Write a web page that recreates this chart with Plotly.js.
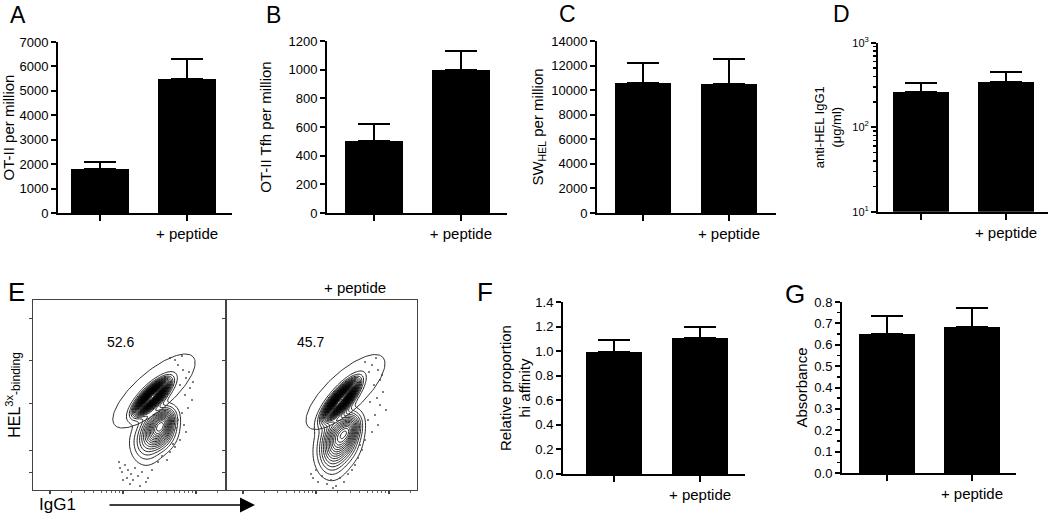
<!DOCTYPE html>
<html><head><meta charset="utf-8">
<script src="https://cdn.plot.ly/plotly-3.0.1.min.js"></script>
<style>html,body{margin:0;padding:0;background:#fff}#chart{width:1050px;height:516px}</style>
</head><body><div id="chart"></div>
<script>
// ---------------- data ----------------
const groups = ['', '+ peptide'];
const otiiMean = [1800, 5500];
const otiiSem = [300, 800];
const tfhMean = [500, 1000];
const tfhSem = [120, 130];
const swhelMean = [10600, 10500];
const swhelSem = [1600, 2000];
const igg1Mean = [260, 345];
const igg1Sem = [70, 105];
const hiAffMean = [0.99, 1.11];
const hiAffSem = [0.10, 0.09];
const absMean = [0.65, 0.685];
const absSem = [0.085, 0.085];
const gatePct = ['52.6', '45.7'];

// flow cytometry populations (estimated), units = box pixels
const ctrlPopX = [119, 125, 132, 112];
const ctrlPopY = [93, 60, 70, 45];
const ctrlPopSMaj = [12, 11, 8, 12];
const ctrlPopSMin = [4.5, 9, 6, 9];
const ctrlPopAng = [45, 75, 60, 95];
const ctrlPopW = [1.0, 0.32, 0.15, 0.08];

const pepPopX = [115, 114, 124, 104];
const pepPopY = [90, 52, 62, 32];
const pepPopSMaj = [13, 14, 9, 13];
const pepPopSMin = [4.5, 10, 6, 9];
const pepPopAng = [50, 80, 65, 95];
const pepPopW = [1.0, 0.32, 0.15, 0.08];

const gateCx = [121, 119.5];
const gateCy = [99, 98];
const gateA = [52, 51];
const gateB = [19, 19];
const gateAng = [41, 43];

const ctrlDotX = [145,150,153,147,157,152,159,155,149,145,151,143,153,147,142,137,92,95,98,102,89,94,100,105,109,97,107,115,119,125,129,87,142,137,149,156,160,140,134,90,86,113];
const ctrlDotY = [125,120,112,105,102,95,90,82,77,70,65,62,58,50,43,38,25,20,16,22,18,12,10,14,18,6,4,12,20,28,34,22,130,132,134,118,108,46,30,10,28,8];
const pepDotX = [139,146,152,143,154,148,157,151,144,154,160,149,142,152,146,139,136,132,129,126,87,92,96,101,105,110,114,118,90,122,156,150,134,85,107];
const pepDotY = [128,125,120,118,110,105,98,92,88,85,80,75,70,65,58,50,40,32,25,20,12,8,14,6,10,4,12,8,20,16,115,132,45,16,2];

// ---------------- helpers ----------------
const W = 1050, H = 516;
const dX = (a, b) => [a / W, b / W];
const dY = (top, bottom) => [1 - bottom / H, 1 - top / H];
const FONT = 'Liberation Sans, Arial, Helvetica, sans-serif';

function popDensity(px, py, smaj, smin, ang, w, x, y) {
  let s = 0;
  for (let i = 0; i < px.length; i++) {
    const t = ang[i] * Math.PI / 180;
    const ddx = x - px[i], ddy = y - py[i];
    const u = ddx * Math.cos(t) + ddy * Math.sin(t);
    const v = -ddx * Math.sin(t) + ddy * Math.cos(t);
    s += w[i] * Math.exp(-0.5 * (u * u / (smaj[i] * smaj[i]) + v * v / (smin[i] * smin[i])));
  }
  return s;
}
function grid(xmax, ymax, step, px, py, smaj, smin, ang, w) {
  const gx = [], gy = [], z = [];
  for (let x = 0; x <= xmax; x += step) gx.push(x);
  for (let y = 0; y <= ymax; y += step) gy.push(y);
  for (const y of gy) z.push(gx.map(x => popDensity(px, py, smaj, smin, ang, w, x, y)));
  return {gx, gy, z};
}
function ellipse(i) {
  const xs = [], ys = [], t = gateAng[i] * Math.PI / 180;
  for (let k = 0; k <= 120; k++) {
    const p = 2 * Math.PI * k / 120;
    const u = gateA[i] * Math.cos(p), v = gateB[i] * Math.sin(p);
    xs.push(gateCx[i] + u * Math.cos(t) - v * Math.sin(t));
    ys.push(gateCy[i] + u * Math.sin(t) + v * Math.cos(t));
  }
  return {xs, ys};
}

// ---------------- bar panels ----------------
const barPanels = [
  {n: '', mean: otiiMean, sem: otiiSem, xd: [58, 232], yd: [42, 213], xr: [-0.483, 1.517], yr: [0, 7000], dtick: 1000, fmt: 'd', title: 'OT-II per million', tsize: 15, standoff: 4},
  {n: '2', mean: tfhMean, sem: tfhSem, xd: [327, 507], yd: [41, 213], xr: [-0.54, 1.53], yr: [0, 1200], dtick: 200, fmt: 'd', title: 'OT-II Tfh per million', tsize: 15, standoff: 13},
  {n: '3', mean: swhelMean, sem: swhelSem, xd: [597, 776], yd: [41, 213], xr: [-0.535, 1.547], yr: [0, 14000], dtick: 2000, fmt: 'd', title: 'SW<sub>HEL</sub> per million', tsize: 15, standoff: 4},
  {n: '4', mean: igg1Mean, sem: igg1Sem, xd: [878, 1048], yd: [42.7, 211.7], xr: [-0.506, 1.494], yr: [1, 3], log: true, title: 'anti-HEL IgG1<br>(μg/ml)', tsize: 13, standoff: 8},
  {n: '5', mean: hiAffMean, sem: hiAffSem, xd: [563, 745], yd: [302, 474], xr: [-0.593, 1.523], yr: [0, 1.4], dtick: 0.2, fmt: '.1f', title: 'Relative proportion<br>hi affinity', tsize: 15, standoff: 1},
  {n: '6', mean: absMean, sem: absSem, xd: [842, 1016], yd: [302, 473], xr: [-0.529, 1.518], yr: [0, 0.8], dtick: 0.1, fmt: '.1f', title: 'Absorbance', tsize: 15, standoff: 3, minor: true}
];

const traces = [];
const layout = {
  width: W, height: H, margin: {l: 0, r: 0, t: 0, b: 0},
  paper_bgcolor: '#fff', plot_bgcolor: 'rgba(0,0,0,0)', showlegend: false,
  font: {family: FONT, color: '#000', size: 13},
  annotations: [], bargap: 0
};

barPanels.forEach(p => {
  const xa = 'xaxis' + p.n, ya = 'yaxis' + p.n;
  traces.push({
    type: 'bar', x: [0, 1], y: p.mean, width: 0.66,
    xaxis: 'x' + p.n, yaxis: 'y' + p.n,
    marker: {color: '#000', line: {width: 0}},
    error_y: {type: 'data', symmetric: false, array: p.sem, arrayminus: [0, 0], color: '#000', thickness: 2, width: 16},
    hoverinfo: 'skip'
  });
  layout[xa] = {
    domain: dX(p.xd[0], p.xd[1]), range: p.xr, anchor: 'y' + p.n,
    tickmode: 'array', tickvals: [0, 1], ticktext: groups,
    ticks: 'outside', ticklen: 6, tickwidth: 2, tickcolor: '#000',
    showline: true, linewidth: 2, linecolor: '#000',
    showgrid: false, zeroline: false, tickfont: {size: 15}, fixedrange: true
  };
  const y = {
    domain: dY(p.yd[0], p.yd[1]), range: p.yr, anchor: 'x' + p.n,
    ticks: 'outside', ticklen: 5, tickwidth: 2, tickcolor: '#000',
    showline: true, linewidth: 2, linecolor: '#000',
    showgrid: false, zeroline: false, tickfont: {size: 13},
    title: {text: p.title, font: {size: p.tsize}, standoff: p.standoff}, fixedrange: true
  };
  if (p.log) {
    y.type = 'log';
    y.tickmode = 'array';
    y.tickvals = [10, 100, 1000];
    y.ticktext = ['10<sup>1</sup>', '10<sup>2</sup>', '10<sup>3</sup>'];
    y.tickfont = {size: 11};
    const mv = [];
    [10, 100].forEach(d => { for (let k = 2; k <= 9; k++) mv.push(d * k); });
    y.minor = {tickmode: 'array', tickvals: mv, ticks: 'outside', ticklen: 3, tickwidth: 1.5, tickcolor: '#000', showgrid: false};
  } else {
    y.tickmode = 'linear'; y.tick0 = 0; y.dtick = p.dtick; y.tickformat = p.fmt;
    if (p.minor) y.minor = {tickmode: 'linear', tick0: 0.05, dtick: 0.1, ticks: 'outside', ticklen: 3, tickwidth: 1.5, tickcolor: '#000', showgrid: false};
  }
  layout[ya] = y;
});

// ---------------- flow panels (E) ----------------
const flowXMaj = [17, 90, 163];
const flowXMin = [];
[17, 90].forEach(m => { for (let k = 2; k <= 9; k++) flowXMin.push(m + 73 * Math.log10(k)); });
for (let k = 2; k <= 3; k++) flowXMin.push(163 + 73 * Math.log10(k));
const flowYMaj = [18, 40, 87, 130, 172];

const flowPanels = [
  {n: '7', xd: [33, 226], xr: [0, 193], px: ctrlPopX, py: ctrlPopY, smaj: ctrlPopSMaj, smin: ctrlPopSMin, ang: ctrlPopAng, w: ctrlPopW, dx: ctrlDotX, dy: ctrlDotY, gi: 0, ytitle: true},
  {n: '8', xd: [226, 417], xr: [0, 191], px: pepPopX, py: pepPopY, smaj: pepPopSMaj, smin: pepPopSMin, ang: pepPopAng, w: pepPopW, dx: pepDotX, dy: pepDotY, gi: 1, ytitle: false}
];

flowPanels.forEach(f => {
  const g = grid(f.xr[1], 190, 1.5, f.px, f.py, f.smaj, f.smin, f.ang, f.w);
  traces.push({
    type: 'contour', x: g.gx, y: g.gy, z: g.z, xaxis: 'x' + f.n, yaxis: 'y' + f.n,
    autocontour: false, contours: {coloring: 'lines', start: 0.02, end: 1.0, size: 0.025, showlabels: false},
    line: {width: 0.85, smoothing: 1}, colorscale: [[0, '#000'], [1, '#000']], showscale: false, hoverinfo: 'skip'
  });
  traces.push({
    type: 'scatter', mode: 'markers', x: f.dx, y: f.dy, xaxis: 'x' + f.n, yaxis: 'y' + f.n,
    marker: {size: 2, color: '#555'}, hoverinfo: 'skip'
  });
  const e = ellipse(f.gi);
  traces.push({
    type: 'scatter', mode: 'lines', x: e.xs, y: e.ys, xaxis: 'x' + f.n, yaxis: 'y' + f.n,
    line: {color: '#333', width: 1}, hoverinfo: 'skip'
  });
  layout['xaxis' + f.n] = {
    domain: dX(f.xd[0], f.xd[1]), range: f.xr, anchor: 'y' + f.n,
    showline: true, mirror: true, linewidth: 1, linecolor: '#444',
    tickmode: 'array', tickvals: flowXMaj, ticks: 'outside', ticklen: 3, tickwidth: 1.5, tickcolor: '#444',
    minor: {tickmode: 'array', tickvals: flowXMin, ticks: 'outside', ticklen: 2, tickwidth: 1, tickcolor: '#666', showgrid: false},
    showticklabels: false, showgrid: false, zeroline: false, fixedrange: true
  };
  layout['yaxis' + f.n] = {
    domain: dY(300, 490), range: [0, 190], anchor: 'x' + f.n,
    showline: true, mirror: true, linewidth: 1, linecolor: '#444',
    tickmode: 'array', tickvals: flowYMaj, ticks: 'outside', ticklen: 3, tickwidth: 1, tickcolor: '#444',
    showticklabels: false, showgrid: false, zeroline: false, fixedrange: true,
    title: f.ytitle ? {text: 'HEL<sup>3x</sup><span style="font-size:12px">-binding</span>', font: {size: 16}, standoff: 4} : {text: ''}
  };
  layout.annotations.push({
    xref: 'x' + f.n, yref: 'y' + f.n, x: f.n === '7' ? 87 : 84, y: 148,
    text: gatePct[f.gi], showarrow: false, font: {size: 14}
  });
});

// ---------------- annotations ----------------
const px2 = (x, y) => ({x: x / W, y: 1 - y / H});
const letters = [['A', 18, 15, 23], ['B', 273, 15, 23], ['C', 567, 14, 23], ['D', 841, 14, 23], ['E', 16, 292, 26], ['F', 485, 292, 26], ['G', 795, 294, 26]];
letters.forEach(l => {
  const p = px2(l[1], l[2]);
  layout.annotations.push({xref: 'paper', yref: 'paper', x: p.x, y: p.y, text: l[0], showarrow: false, font: {size: l[3]}, xanchor: 'center', yanchor: 'middle'});
});
let p = px2(322, 287);
layout.annotations.push({xref: 'paper', yref: 'paper', x: p.x, y: p.y, text: '+ peptide', showarrow: false, font: {size: 15}});
p = px2(57, 516);
layout.annotations.push({xref: 'paper', yref: 'paper', x: p.x, y: p.y, text: 'IgG1', showarrow: false, font: {size: 17}, xanchor: 'center', yanchor: 'bottom'});
p = px2(255, 505);
layout.annotations.push({xref: 'paper', yref: 'paper', x: p.x, y: p.y, ax: -147, ay: 0, text: '', showarrow: true, arrowhead: 2, arrowsize: 2, arrowwidth: 1.5, arrowcolor: '#000'});

Plotly.newPlot('chart', traces, layout, {displayModeBar: false, staticPlot: true});
</script>
</body></html>
